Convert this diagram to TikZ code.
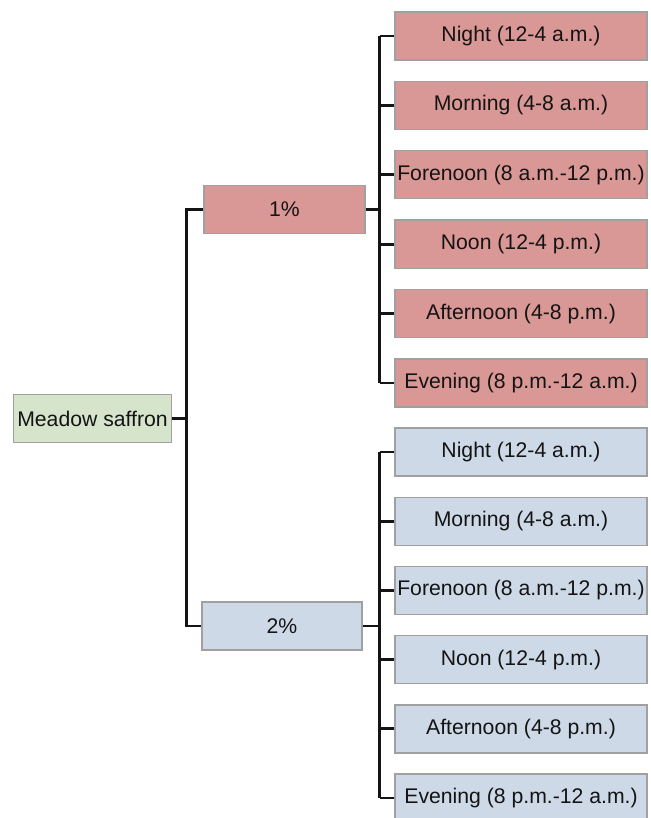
\documentclass[tikz,border=0pt]{standalone}
\usepackage{fontspec}
\setmainfont{Liberation Sans}
\usepackage{tikz}
\usepackage{xcolor}
\usetikzlibrary{positioning,calc}
\definecolor{ink}{RGB}{20,20,20}
\definecolor{edge}{RGB}{160,160,160}
\definecolor{softpink}{RGB}{217,151,149}
\definecolor{softblue}{RGB}{205,217,231}
\definecolor{softgreen}{RGB}{214,228,204}
\tikzset{
  box/.style={draw=edge,line width=0.7pt,inner sep=1pt,minimum height=24pt,font=\fontsize{10.6}{12}\selectfont,text=ink},
  rootbox/.style={box,fill=softgreen,minimum width=79pt},
  pinkbox/.style={box,fill=softpink},
  bluebox/.style={box,fill=softblue},
  link/.style={draw=ink,line width=1.35pt}
}

\begin{document}
\begin{tikzpicture}[x=0.5pt,y=-0.5pt]
  \useasboundingbox (0,0) rectangle (651,818);

  \node[rootbox] (root) at (92.5,418.5) {Meadow saffron};
  \node[pinkbox,minimum width=80.5pt] (p1) at (284.5,209.5) {1\%};
  \node[bluebox,minimum width=80pt] (p2) at (282,626) {2\%};

  \foreach \lbl [count=\i] in {Night (12-4 a.m.),Morning (4-8 a.m.),Forenoon (8 a.m.-12 p.m.),Noon (12-4 p.m.),Afternoon (4-8 p.m.),Evening (8 p.m.-12 a.m.)} {
    \node[pinkbox,minimum width=126pt] (a\i) at (521,{36+69.4*(\i-1)}) {\lbl};
    \node[bluebox,minimum width=126pt] (b\i) at (521,{452+69.2*(\i-1)}) {\lbl};
  }

  % root to percentages
  \draw[link] (root.east) -- ++(14,0) coordinate (rt) |- (p1.west);
  \draw[link] (rt) |- (p2.west);

  % percentages to time slots
  \draw[link] (p1.east) -- ++(14,0) coordinate (t1);
  \draw[link] (p2.east) -- ++(17,0) coordinate (t2);
  \foreach \i in {1,...,6} {
    \draw[link] (t1 |- a\i.west) -- (a\i.west);
    \draw[link] (t2 |- b\i.west) -- (b\i.west);
  }
  \draw[link] (t1 |- a1.west) -- (t1 |- a6.west);
  \draw[link] (t2 |- b1.west) -- (t2 |- b6.west);
\end{tikzpicture}
\end{document}
